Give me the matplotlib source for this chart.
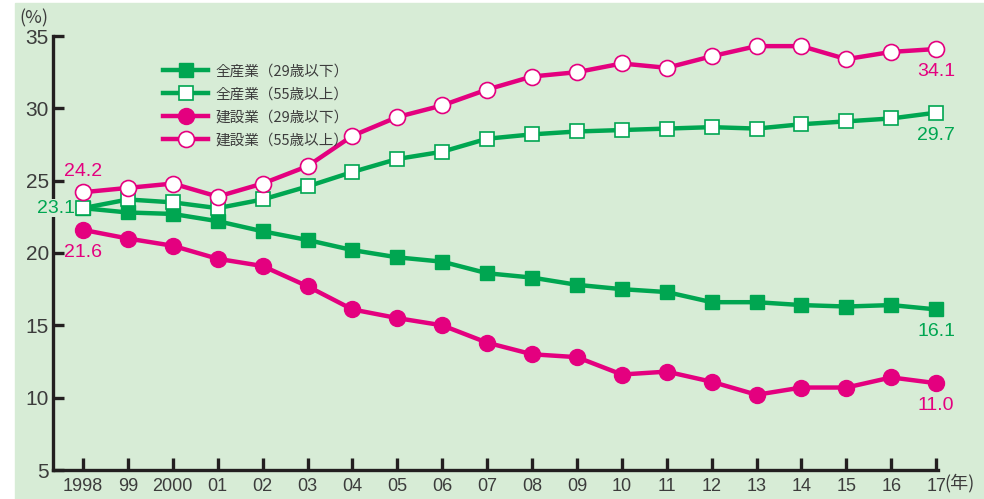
import matplotlib.pyplot as plt
from matplotlib.patches import Rectangle

plt.rcParams['font.family'] = ['Liberation Sans Narrow', 'Liberation Sans', 'Noto Sans CJK JP']

years = ['1998', '99', '2000', '01', '02', '03', '04', '05', '06', '07',
         '08', '09', '10', '11', '12', '13', '14', '15', '16', '17']
all_young = [23.1, 22.8, 22.7, 22.2, 21.5, 20.9, 20.2, 19.7, 19.4, 18.6,
             18.3, 17.8, 17.5, 17.3, 16.6, 16.6, 16.4, 16.3, 16.4, 16.1]
all_old = [23.1, 23.7, 23.5, 23.1, 23.7, 24.6, 25.6, 26.5, 27.0, 27.9,
           28.2, 28.4, 28.5, 28.6, 28.7, 28.6, 28.9, 29.1, 29.3, 29.7]
con_young = [21.6, 21.0, 20.5, 19.6, 19.1, 17.7, 16.1, 15.5, 15.0, 13.8,
             13.0, 12.8, 11.6, 11.8, 11.1, 10.2, 10.7, 10.7, 11.4, 11.0]
con_old = [24.2, 24.5, 24.8, 23.9, 24.8, 26.0, 28.1, 29.4, 30.2, 31.3,
           32.2, 32.5, 33.1, 32.8, 33.6, 34.3, 34.3, 33.4, 33.9, 34.1]
labels = ['全産業（29歳以下）', '全産業（55歳以上）', '建設業（29歳以下）', '建設業（55歳以上）']

green = '#00a651'
pink = '#e4007f'
bg = '#d7ecd6'
jp = ['Noto Sans CJK JP', 'DejaVu Sans']

fig = plt.figure(figsize=(9.84, 4.99), dpi=100)
fig.patches.append(Rectangle((15 / 984, 0), 1 - 15 / 984, 1 - 3 / 499,
                             transform=fig.transFigure, color=bg, zorder=-10))
ax = fig.add_axes([53 / 984, 29 / 499, (938 - 53) / 984, (470 - 36) / 499])
ax.set_facecolor('none')

x = list(range(len(years)))
ax.plot(x, all_young, color=green, lw=3.2, marker='s', ms=9.5, mfc=green, mec=green, label=labels[0], clip_on=False, zorder=3)
ax.plot(x, all_old, color=green, lw=3.2, marker='s', ms=10, mfc='white', mec=green, mew=1.2, label=labels[1], clip_on=False, zorder=3)
ax.plot(x, con_young, color=pink, lw=3.2, marker='o', ms=11.5, mfc=pink, mec=pink, label=labels[2], clip_on=False, zorder=4)
ax.plot(x, con_old, color=pink, lw=3.2, marker='o', ms=11.5, mfc='white', mec=pink, mew=1.2, label=labels[3], clip_on=False, zorder=4)

ax.set_xlim(-0.668, 19.04)
ax.set_ylim(5, 35)
ax.set_xticks(x)
ax.set_xticklabels(years)
ax.set_yticks([5, 10, 15, 20, 25, 30, 35])
for s in ['top', 'right']:
    ax.spines[s].set_visible(False)
for s in ['left', 'bottom']:
    ax.spines[s].set_linewidth(2.4)
    ax.spines[s].set_color('#231f20')
ax.tick_params(axis='y', direction='in', length=8, width=2.4, color='#231f20', labelsize=15, pad=3, labelcolor='#3c3c3c')
ax.tick_params(axis='x', direction='in', length=9, width=2.4, color='#231f20', labelsize=13, pad=6, labelcolor='#3c3c3c')

# end-point values
ax.annotate('23.1', (0, all_young[0]), xytext=(-6, 0), textcoords='offset points', color=green, fontsize=14,
            ha='right', va='center', zorder=5, bbox=dict(facecolor=bg, edgecolor='none', pad=0.5))
ax.annotate('24.2', (0, con_old[0]), xytext=(0, 9), textcoords='offset points', color=pink, fontsize=14, ha='center', va='bottom')
ax.annotate('21.6', (0, con_young[0]), xytext=(0, -10), textcoords='offset points', color=pink, fontsize=14, ha='center', va='top')
ax.annotate('34.1', (19, con_old[-1]), xytext=(0, -10), textcoords='offset points', color=pink, fontsize=14, ha='center', va='top')
ax.annotate('29.7', (19, all_old[-1]), xytext=(0, -10), textcoords='offset points', color=green, fontsize=14, ha='center', va='top')
ax.annotate('16.1', (19, all_young[-1]), xytext=(0, -10), textcoords='offset points', color=green, fontsize=14, ha='center', va='top')
ax.annotate('11.0', (19, con_young[-1]), xytext=(0, -10), textcoords='offset points', color=pink, fontsize=14, ha='center', va='top')

fig.text(19 / 984, 1 - 18 / 499, '(%)', fontsize=13, color='#3c3c3c', ha='left', va='center', family=jp)
fig.text(944 / 984, 1 - 483 / 499, '(年)', fontsize=13, color='#3c3c3c', ha='left', va='center', family=jp)

ax.legend(loc='upper left', bbox_to_anchor=(150 / 984, 1 - 51 / 499), bbox_transform=fig.transFigure,
          frameon=False, prop={'family': jp, 'size': 10.5}, handlelength=3.1, labelspacing=0.62,
          handletextpad=0.5, labelcolor='#3c3c3c')

fig.savefig('out.png', dpi=100)
